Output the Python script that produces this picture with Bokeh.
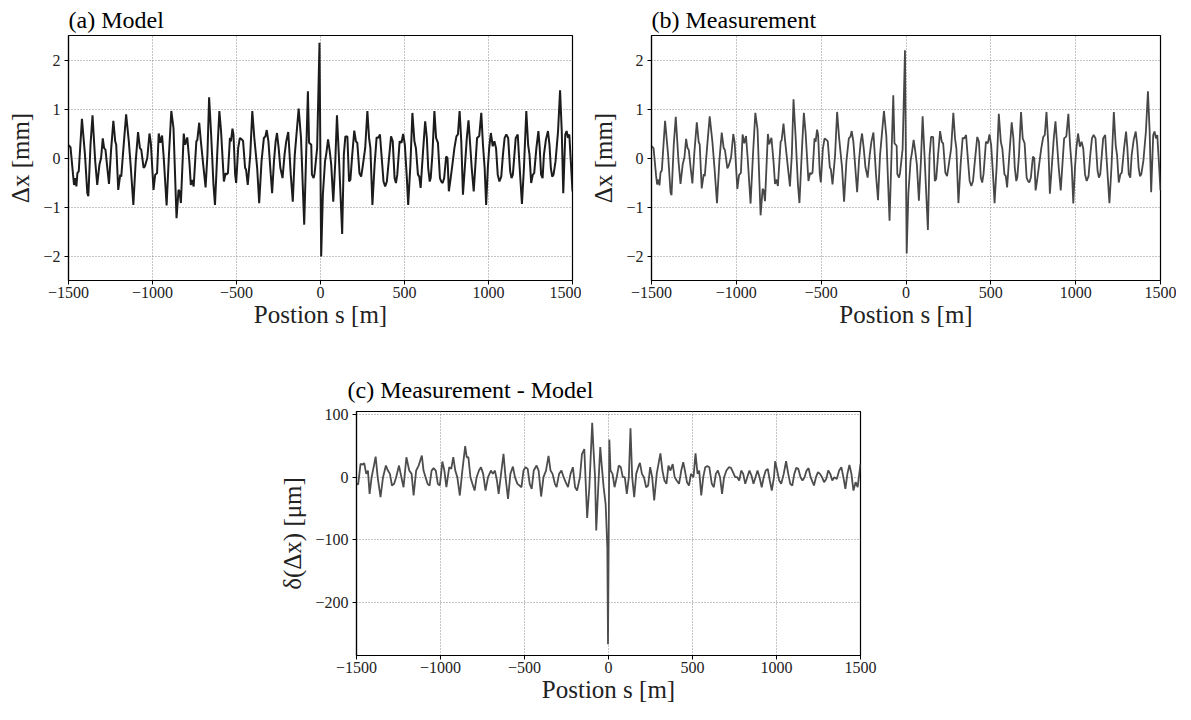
from bokeh.plotting import figure
from bokeh.models import Range1d, FixedTicker, CustomJSTickFormatter, ColumnDataSource, Spacer
from bokeh.layouts import column, row
from bokeh.embed import file_html
from bokeh.resources import INLINE

# ---------------- data ----------------
# BPM positions s [m] used for panels (a) and (b)
s_bpm = [-1500, -1488, -1473, -1467, -1459, -1453, -1447, -1439, -1420, -1402,
         -1388, -1382, -1369, -1357, -1341, -1329, -1316, -1306, -1296, -1288,
         -1280, -1269, -1259, -1247, -1233, -1222, -1216, -1204, -1192, -1186,
         -1173, -1157, -1141, -1129, -1114, -1100, -1086, -1075, -1067, -1053,
         -1045, -1031, -1018, -1010, -994, -984, -973, -963, -953, -943,
         -933, -916, -902, -888, -875, -857, -845, -839, -831, -814,
         -806, -793, -780, -772, -765, -755, -739, -733, -722, -712,
         -698, -684, -673, -663, -651, -637, -628, -614, -602, -592,
         -575, -565, -559, -551, -539, -533, -524, -518, -508, -502,
         -490, -480, -469, -461, -449, -443, -433, -418, -406, -394,
         -377, -365, -351, -337, -328, -320, -310, -296, -288, -277,
         -267, -259, -249, -239, -226, -214, -204, -192, -177, -165,
         -153, -130, -116, -97, -75, -68, -55, -51, -41, -35,
         -20, -6, 4, 14, 27, 35, 45, 55, 64, 76,
         88, 98, 109, 129, 139, 148, 160, 170, 178, 189,
         201, 211, 219, 232, 242, 250, 266, 279, 289, 297,
         309, 322, 334, 344, 354, 363, 375, 385, 395, 406,
         420, 430, 441, 449, 457, 471, 482, 492, 502, 514,
         522, 535, 547, 559, 568, 580, 588, 596, 609, 623,
         633, 641, 650, 656, 666, 678, 688, 699, 711, 719,
         727, 736, 748, 756, 764, 772, 785, 797, 809, 818,
         828, 838, 848, 859, 871, 881, 891, 900, 912, 922,
         932, 945, 957, 967, 977, 986, 996, 1004, 1014, 1025,
         1035, 1045, 1055, 1065, 1076, 1086, 1096, 1106, 1117, 1129,
         1137, 1145, 1162, 1174, 1182, 1199, 1211, 1225, 1236, 1244,
         1254, 1264, 1272, 1285, 1297, 1305, 1313, 1322, 1330, 1342,
         1354, 1363, 1371, 1379, 1387, 1399, 1414, 1426, 1436, 1445,
         1457, 1465, 1473, 1481, 1490, 1500]

# (a) Model orbit deviation [mm]
dx_model = [0.26, 0.22, -0.34, -0.55, -0.41, -0.58, -0.31, -0.27, 0.80, 0.07,
            -0.72, -0.78, 0.27, 0.87, -0.07, -0.55, -0.14, 0.00, 0.40, 0.20,
            0.17, -0.20, -0.53, 0.14, 0.76, 0.34, 0.27, -0.65, -0.34, -0.38,
            0.20, 0.89, 0.34, -0.20, -0.96, -0.07, 0.53, 0.20, 0.17, -0.20,
            -0.17, 0.00, 0.50, 0.31, -0.65, -0.34, -0.31, 0.50, 0.31, 0.46,
            0.00, -0.97, 0.07, 0.96, 0.61, -1.23, -0.65, -0.68, -0.92, 0.50,
            0.27, 0.42, -0.10, -0.55, -0.45, -0.58, 0.34, 0.37, 0.72, 0.34,
            -0.14, -0.60, 0.07, 1.24, 0.48, -0.55, -0.96, 0.14, 0.96, 0.55,
            -0.48, -0.31, -0.34, -0.31, 0.41, 0.34, 0.60, 0.48, -0.34, -0.51,
            0.20, 0.41, 0.38, 0.35, -0.20, -0.24, -0.55, 0.07, 0.96, 0.41,
            -0.20, -0.92, -0.07, 0.41, 0.44, 0.57, 0.34, -0.34, -0.72, -0.07,
            0.34, 0.51, 0.20, -0.20, -0.41, 0.07, 0.34, 0.53, -0.34, -0.89,
            0.07, 1.01, 0.41, -1.36, 1.36, 0.31, 0.27, -0.34, -0.41, -0.31,
            0.20, 2.35, -2.01, -0.75, -0.07, 0.10, 0.38, 0.14, -0.14, -0.89,
            -0.07, 0.87, 0.07, -1.55, 0.07, 0.44, 0.44, -0.48, -0.44, 0.07,
            0.56, 0.34, 0.31, -0.31, -0.38, -0.20, 0.20, 0.96, 0.41, 0.20,
            -0.96, -0.14, 0.42, 0.41, 0.48, 0.07, -0.48, -0.58, -0.48, -0.07,
            0.44, 0.34, -0.41, -0.51, -0.34, 0.34, 0.31, 0.49, 0.27, -0.41,
            -0.96, -0.14, 0.92, 0.34, 0.20, -0.34, -0.38, -0.61, 0.07, 0.75,
            0.41, -0.20, -0.48, -0.41, 0.07, 0.96, 0.41, 0.31, -0.41, -0.48,
            -0.51, -0.41, 0.03, 0.00, -0.68, -0.48, -0.14, 0.20, 0.44, 0.48,
            0.96, 0.34, -0.75, -0.20, 0.41, 0.77, 0.27, -0.20, -0.68, -0.14,
            0.41, 0.45, 0.92, 0.27, -0.20, -0.96, -0.20, 0.20, 0.51, 0.24,
            0.34, 0.20, -0.34, -0.48, -0.38, 0.07, 0.41, 0.48, 0.41, -0.27,
            -0.41, -0.34, 0.41, 0.48, 0.00, -0.94, -0.20, 0.96, 0.27, 0.07,
            -0.51, -0.34, -0.31, 0.20, 0.55, 0.20, -0.34, -0.41, 0.07, 0.38,
            0.55, 0.27, -0.20, -0.38, -0.34, -0.07, 0.55, 1.38, 0.55, -0.72,
            0.48, 0.55, 0.41, 0.48, -0.07, -0.68]

# (b) Measured orbit deviation [mm]
dx_meas = [0.24, 0.20, -0.36, -0.54, -0.44, -0.56, -0.30, -0.25, 0.76, 0.06,
           -0.70, -0.76, 0.26, 0.84, -0.06, -0.53, -0.13, 0.01, 0.39, 0.21,
           0.16, -0.21, -0.52, 0.13, 0.73, 0.33, 0.28, -0.62, -0.33, -0.37,
           0.19, 0.85, 0.33, -0.19, -0.92, -0.06, 0.52, 0.21, 0.16, -0.21,
           -0.16, 0.01, 0.49, 0.32, -0.63, -0.35, -0.30, 0.48, 0.30, 0.45,
           -0.01, -0.93, 0.06, 0.92, 0.58, -1.17, -0.63, -0.66, -0.88, 0.49,
           0.28, 0.41, -0.11, -0.53, -0.44, -0.57, 0.33, 0.36, 0.70, 0.33,
           -0.13, -0.58, 0.06, 1.20, 0.46, -0.54, -0.92, 0.13, 0.92, 0.53,
           -0.47, -0.30, -0.33, -0.30, 0.40, 0.33, 0.58, 0.47, -0.33, -0.50,
           0.19, 0.40, 0.37, 0.34, -0.19, -0.23, -0.54, 0.06, 0.94, 0.40,
           -0.19, -0.89, -0.06, 0.40, 0.43, 0.55, 0.33, -0.33, -0.70, -0.06,
           0.33, 0.50, 0.19, -0.19, -0.40, 0.06, 0.33, 0.52, -0.33, -0.86,
           0.06, 0.96, 0.45, -1.28, 1.28, 0.30, 0.25, -0.33, -0.40, -0.30,
           0.18, 2.20, -1.95, -0.72, -0.06, 0.11, 0.37, 0.13, -0.13, -0.87,
           -0.06, 0.85, 0.06, -1.47, 0.06, 0.43, 0.43, -0.47, -0.43, 0.06,
           0.55, 0.33, 0.30, -0.30, -0.37, -0.19, 0.19, 0.92, 0.40, 0.19,
           -0.92, -0.13, 0.41, 0.40, 0.47, 0.06, -0.47, -0.57, -0.47, -0.06,
           0.43, 0.33, -0.40, -0.50, -0.33, 0.33, 0.30, 0.48, 0.26, -0.40,
           -0.92, -0.13, 0.90, 0.33, 0.19, -0.33, -0.37, -0.60, 0.06, 0.73,
           0.40, -0.19, -0.47, -0.40, 0.06, 0.94, 0.40, 0.30, -0.40, -0.47,
           -0.50, -0.40, 0.03, 0.00, -0.66, -0.47, -0.13, 0.19, 0.43, 0.47,
           0.94, 0.33, -0.73, -0.19, 0.40, 0.75, 0.26, -0.19, -0.66, -0.13,
           0.40, 0.44, 0.90, 0.26, -0.19, -0.93, -0.19, 0.19, 0.50, 0.23,
           0.33, 0.19, -0.33, -0.47, -0.37, 0.06, 0.40, 0.47, 0.40, -0.26,
           -0.40, -0.33, 0.40, 0.47, 0.00, -0.92, -0.19, 0.94, 0.26, 0.06,
           -0.50, -0.33, -0.30, 0.19, 0.54, 0.19, -0.33, -0.40, 0.06, 0.37,
           0.54, 0.26, -0.19, -0.37, -0.33, -0.06, 0.54, 1.36, 0.54, -0.70,
           0.47, 0.54, 0.40, 0.47, -0.06, -0.66]

# (c) Measurement - Model [um]
s_diff = [-1500, -1490, -1476, -1464, -1454, -1442, -1432, -1422, -1410, -1398,
          -1386, -1374, -1357, -1342, -1325, -1313, -1301, -1289, -1276, -1264,
          -1247, -1233, -1220, -1203, -1186, -1172, -1160, -1145, -1130, -1111,
          -1101, -1089, -1077, -1065, -1053, -1041, -1028, -1016, -1004, -989,
          -977, -965, -948, -936, -924, -912, -900, -885, -870, -853,
          -844, -834, -822, -810, -797, -785, -771, -759, -746, -732,
          -717, -700, -688, -676, -664, -654, -642, -625, -613, -598,
          -584, -569, -557, -542, -530, -518, -506, -494, -481, -469,
          -457, -445, -428, -416, -401, -387, -372, -357, -345, -333,
          -319, -309, -294, -280, -267, -255, -241, -226, -212, -199,
          -187, -170, -158, -144, -127, -114, -97, -90, -80, -73,
          -61, -49, -41, -29, -17, -7, -3, 5, 12, 24,
          36, 49, 61, 73, 85, 97, 109, 121, 131, 141,
          153, 165, 177, 187, 199, 211, 224, 236, 248, 260,
          272, 287, 309, 321, 333, 345, 357, 369, 382, 394,
          406, 420, 433, 445, 455, 467, 479, 491, 506, 518,
          530, 540, 552, 564, 576, 588, 600, 615, 627, 639,
          651, 664, 676, 688, 702, 717, 729, 741, 754, 766,
          778, 790, 802, 814, 826, 839, 851, 863, 875, 887,
          899, 912, 924, 936, 948, 960, 972, 985, 992, 1004,
          1016, 1028, 1043, 1057, 1070, 1082, 1094, 1106, 1118, 1130,
          1143, 1155, 1167, 1179, 1191, 1203, 1223, 1235, 1247, 1259,
          1271, 1283, 1296, 1308, 1320, 1332, 1344, 1359, 1373, 1386,
          1398, 1410, 1422, 1434, 1446, 1458, 1471, 1483, 1500]
ddx = [-10.6, -11.7, 21.3, 20.2, 22.3, 5.3, 10.6, -26.6, 0.0, 16.0,
       33.0, 0.0, -31.9, 0.0, 18.6, 10.6, 5.3, -13.3, -10.6, 0.0,
       18.6, 0.0, -16.0, 31.9, 10.6, 5.3, -29.3, 10.6, 18.6, 34.6,
       10.6, 0.0, -10.6, -13.3, 10.6, 14.4, 10.6, -10.6, -13.3, 25.0,
       10.6, -16.0, 16.0, 13.3, 31.9, 10.6, 0.0, -29.3, 10.6, 49.5,
       31.9, 31.9, 0.0, -10.6, -21.3, 0.0, 10.6, 16.0, 5.3, -21.3,
       0.0, 10.6, 5.3, 10.6, -5.3, -26.6, 0.0, 37.2, 0.0, -34.6,
       5.3, 17.0, 0.0, -10.6, -13.3, -16.0, 10.6, 16.0, 13.3, -10.6,
       -18.6, 10.6, 18.6, 10.6, -30.9, 0.0, 10.6, 34.0, 10.6, 5.3,
       -10.6, -16.0, 5.3, 10.6, 0.0, -8.0, -16.0, 5.3, 16.0, -16.0,
       -21.3, 0.0, 37.0, 45.0, -65.0, -16.0, 87.0, 48.0, 0.0, -85.0,
       -16.0, 48.0, 21.0, -16.0, -43.0, -112.0, -267.0, 60.0, 10.6, 5.3,
       -16.0, 0.0, 18.6, 16.0, 0.0, 0.0, -26.6, 0.0, 78.0, 0.0,
       -32.0, 5.3, 16.0, 23.0, 5.3, 0.0, -16.0, -13.3, 16.0, 0.0,
       -37.0, 5.3, 38.0, 10.6, -5.3, -10.6, 18.6, 10.6, 21.0, 0.0,
       -5.3, -10.6, 10.6, 24.0, 10.6, -8.0, -13.3, 5.3, 0.0, 38.0,
       5.3, 10.6, -29.3, 0.0, 16.0, 17.6, 16.0, -10.6, -16.0, 5.3,
       10.6, 0.0, -26.6, 0.0, 10.6, 16.0, 15.0, 8.0, 0.0, 0.0,
       -5.3, 10.6, 5.3, -10.6, 0.0, 10.6, 2.7, -10.6, 0.0, 10.6,
       0.0, -16.0, 0.0, 10.6, 13.3, -5.3, -21.3, 0.0, 25.5, 10.6,
       -5.3, -10.6, 5.3, 25.5, 5.3, -10.6, -13.3, 5.3, 14.9, 13.3,
       0.0, -5.3, 0.0, 10.6, 14.4, 0.0, -13.3, 0.0, 8.0, 5.3,
       0.0, -8.0, -2.7, 10.6, 5.3, -5.3, 0.0, -2.7, 10.6, 16.0,
       0.0, -18.6, 5.3, 19.7, 5.3, -21.3, -8.0, -16.0, 21.3]

x_ticks = [-1500, -1000, -500, 0, 500, 1000, 1500]
y_ticks_mm = [-2, -1, 0, 1, 2]
y_ticks_um = [-200, -100, 0, 100]

# ---------------- styling helpers ----------------
SERIF = "Liberation Serif"
MINUS_FMT = "return tick < 0 ? '\u2212' + Math.abs(tick) : String(tick);"


def panel(title, yrange, yticks, ylabel, left, right, top, bottom, fw, fh,
          title_standoff, title_offset):
    p = figure(frame_width=fw, frame_height=fh,
               x_range=Range1d(-1500, 1500), y_range=Range1d(*yrange),
               output_backend="svg", toolbar_location=None,
               min_border_left=left, min_border_right=right,
               min_border_top=top, min_border_bottom=bottom)
    p.title.text = title
    p.title.align = "left"
    p.title.text_font = SERIF
    p.title.text_font_size = "24px"
    p.title.text_font_style = "normal"
    p.title.text_color = "black"
    p.title.standoff = title_standoff
    p.title.offset = title_offset
    p.outline_line_color = "black"
    p.outline_line_width = 1.2
    p.outline_line_alpha = 1.0
    p.background_fill_color = "white"
    p.border_fill_color = "white"
    p.xaxis.ticker = FixedTicker(ticks=x_ticks)
    p.yaxis.ticker = FixedTicker(ticks=yticks)
    for ax in (p.xaxis[0], p.yaxis[0]):
        ax.formatter = CustomJSTickFormatter(code=MINUS_FMT)
        ax.major_label_text_font = SERIF
        ax.major_label_text_font_size = "16px"
        ax.major_label_text_color = "#222222"
        ax.axis_label_text_font = SERIF
        ax.axis_label_text_font_size = "25px"
        ax.axis_label_text_font_style = "normal"
        ax.axis_label_text_color = "#222222"
        ax.axis_line_color = "black"
        ax.axis_line_width = 1.2
        ax.major_tick_in = 0
        ax.major_tick_out = 4
        ax.major_tick_line_color = "black"
        ax.minor_tick_in = 0
        ax.minor_tick_out = 0
    p.xaxis.major_label_standoff = 2
    p.yaxis.major_label_standoff = 4
    p.xaxis.axis_label = "Postion s [m]"
    p.xaxis.axis_label_standoff = 0
    p.yaxis.axis_label = ylabel
    p.yaxis.axis_label_standoff = 6
    for g in (p.xgrid[0], p.ygrid[0]):
        g.grid_line_color = "#8a8a8a"
        g.grid_line_dash = "1 2"
        g.grid_line_width = 1
    p.xgrid.ticker = FixedTicker(ticks=x_ticks)
    p.ygrid.ticker = FixedTicker(ticks=yticks)
    return p


pa = panel("(a) Model", (-2.5, 2.5), y_ticks_mm, "\u0394x [mm]", 68, 9, 35, 85, 504, 245, 6, 0)
pa.line(x="s", y="v", source=ColumnDataSource(dict(s=s_bpm, v=dx_model)),
        line_color="#1c1c1c", line_width=2)

pb = panel("(b) Measurement", (-2.5, 2.5), y_ticks_mm, "\u0394x [mm]", 70, 16, 35, 85, 509, 245, 6, 0)
pb.line(x="s", y="v", source=ColumnDataSource(dict(s=s_bpm, v=dx_meas)),
        line_color="#474747", line_width=1.8)

pc = panel("(c) Measurement - Model", (-285, 105), y_ticks_um, "\u03b4(\u0394x) [\u03bcm]", 80, 20, 46, 60, 504, 244, 17, -9)
pc.line(x="s", y="v", source=ColumnDataSource(dict(s=s_diff, v=ddx)),
        line_color="#4d4d4d", line_width=1.8)

layout = column(row(pa, pb), row(Spacer(width=276, height=10), pc))

with open("out.html", "w", encoding="utf-8") as f:
    f.write(file_html(layout, INLINE))
